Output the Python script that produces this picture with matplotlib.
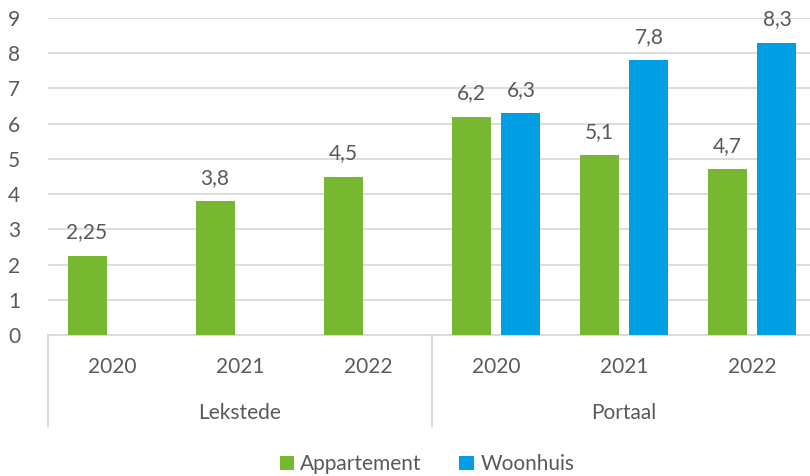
import matplotlib
matplotlib.use("Agg")
import matplotlib.pyplot as plt
from matplotlib.patches import Patch
import numpy as np

groups = ["Lekstede", "Portaal"]
years = ["2020", "2021", "2022", "2020", "2021", "2022"]
appartement = [2.25, 3.8, 4.5, 6.2, 5.1, 4.7]
woonhuis = [None, None, None, 6.3, 7.8, 8.3]
series_names = ["Appartement", "Woonhuis"]
colors = ["#76B82F", "#009FE3"]
text_color = "#595959"
grid_color = "#D9D9D9"

plt.rcParams['font.family'] = ['Lato', 'DejaVu Sans']

fig = plt.figure(figsize=(8.1, 4.76), dpi=100)
ax = fig.add_axes([48/810, (476-335)/476, (816-48)/810, (335-18)/476])

x = np.arange(len(years))
bw = 0.305
off = 0.195

def fmt(v):
    return f"{v:g}".replace('.', ',')

for i, v in enumerate(appartement):
    if v is None:
        continue
    ax.bar(x[i] - off, v, bw, color=colors[0], zorder=3)
    ax.annotate(fmt(v), (x[i] - off, v), xytext=(0, 9.5), textcoords='offset points',
                ha='center', va='bottom', fontsize=15, color=text_color)
for i, v in enumerate(woonhuis):
    if v is None:
        continue
    ax.bar(x[i] + off, v, bw, color=colors[1], zorder=3)
    ax.annotate(fmt(v), (x[i] + off, v), xytext=(0, 9.5), textcoords='offset points',
                ha='center', va='bottom', fontsize=15, color=text_color)

ax.set_xlim(-0.5, len(years) - 0.5)
ax.set_ylim(0, 9)
ax.set_yticks(range(0, 10))
ax.yaxis.grid(True, color=grid_color, linewidth=1.3, zorder=0)
ax.set_axisbelow(True)
for s in ['top', 'right', 'left']:
    ax.spines[s].set_visible(False)
ax.spines['bottom'].set_color(grid_color)
ax.spines['bottom'].set_linewidth(1.3)
ax.tick_params(axis='y', length=0, labelsize=15, labelcolor=text_color, pad=20)
ax.set_xticks(x)
ax.set_xticklabels(years)
ax.tick_params(axis='x', length=0, labelsize=15, labelcolor=text_color, pad=16)

# group separators
sep_depth = (427 - 335) / (335 - 18)
for xs in [-0.5, 2.5, 5.5]:
    ax.plot([xs, xs], [0, -sep_depth], transform=ax.get_xaxis_transform(),
            color=grid_color, linewidth=1.3, clip_on=False)
for gi, g in enumerate(groups):
    ax.text(gi * 3 + 1, -(413 - 335) / (335 - 18), g, transform=ax.get_xaxis_transform(),
            ha='center', va='center', fontsize=15, color=text_color)

handles = [Patch(facecolor=c, edgecolor='none') for c in colors]
fig.legend(handles, series_names, loc='center', bbox_to_anchor=(0.527, 0.025),
           ncol=2, frameon=False, fontsize=15, labelcolor=text_color,
           handlelength=0.7, handleheight=0.7, handletextpad=0.3, columnspacing=1.8)

fig.savefig("out.png", dpi=100)
